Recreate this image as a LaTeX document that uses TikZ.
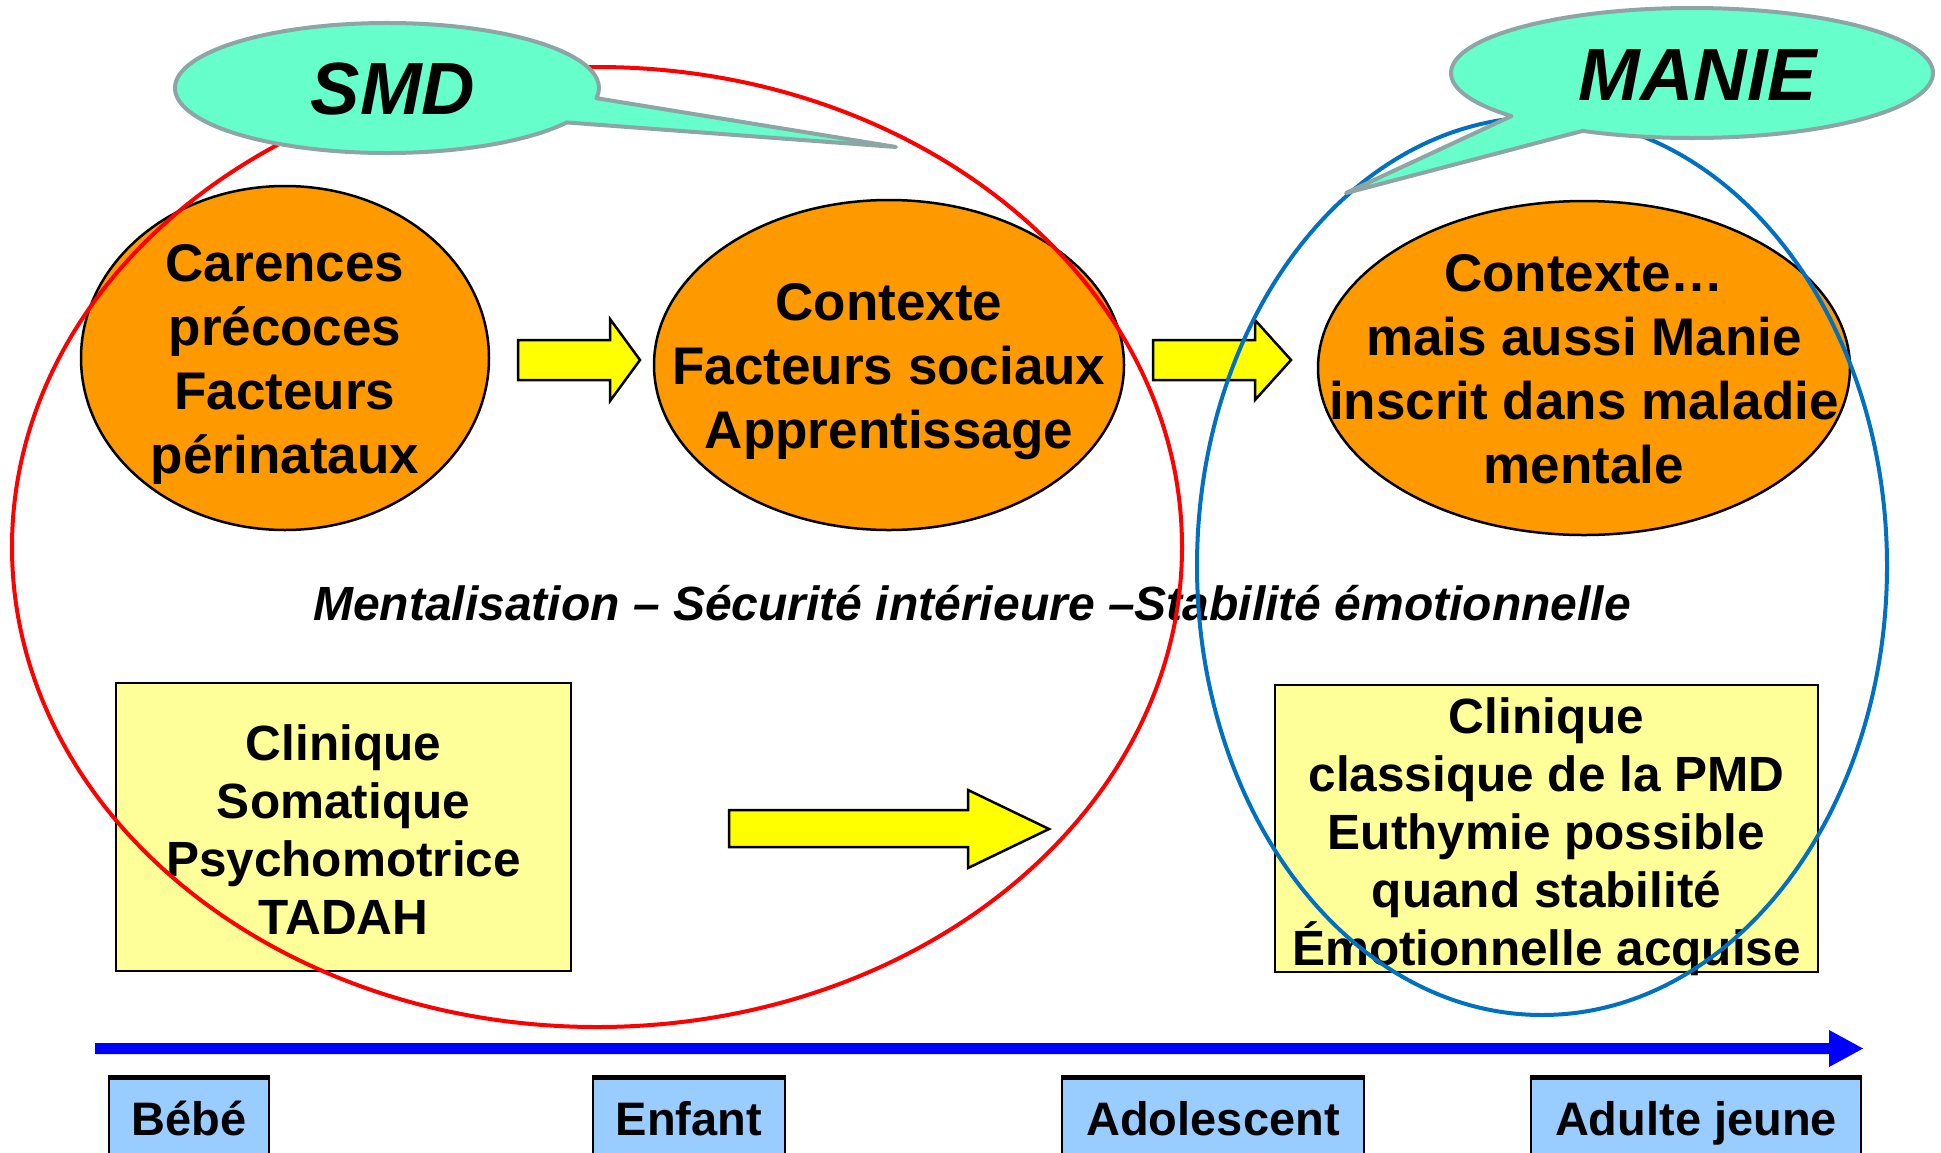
\documentclass[tikz,border=0pt]{standalone}
\usepackage{fontspec}
\setmainfont{Liberation Sans}
\definecolor{orangeF}{HTML}{FF9900}
\definecolor{yelA}{HTML}{FFFF00}
\definecolor{yelBox}{HTML}{FFFF99}
\definecolor{calloutF}{HTML}{66FFCC}
\definecolor{calloutD}{HTML}{8CA5A5}
\definecolor{ageF}{HTML}{99CCFF}
\definecolor{tlBlue}{HTML}{0000FF}
\definecolor{redE}{HTML}{FF0000}
\definecolor{blueE}{HTML}{0070C0}
\begin{document}
\begin{tikzpicture}[x=1pt,y=-1pt,
  phaseE/.style={draw=black, line width=2.5pt, fill=orangeF},
  phasetext/.style={inner sep=0pt, align=center, font=\fontsize{53}{64}\selectfont\bfseries},
  yarrow/.style={fill=yelA, draw=black, line width=2.5pt, line join=miter},
  clinbox/.style={draw=black, line width=2pt, fill=yelBox},
  clintext/.style={inner sep=0pt, align=center, font=\fontsize{49.5}{58}\selectfont\bfseries},
  callout/.style={fill=calloutF, draw=calloutD, line width=4pt, line join=round},
  calltext/.style={font=\fontsize{74}{80}\selectfont\bfseries\itshape},
  agebox/.style={rectangle, draw=black, line width=2pt, fill=ageF, inner sep=0pt,
    minimum height=80pt, text height=34pt, text depth=0pt,
    font=\fontsize{47}{56}\selectfont\bfseries},
  ringA/.style={draw=redE, line width=4pt},
  ringB/.style={draw=blueE, line width=4pt}]
\useasboundingbox (0,0) rectangle (1941,1152);
\fill[white] (0,0) rectangle (1941,1152);

% orange phase ellipses
\path[phaseE] (285,358) ellipse [x radius=204pt, y radius=172pt];
\node[phasetext] (e1) at (285,364) {Carences\\précoces\\Facteurs\\périnataux};
\path[phaseE] (889,365) ellipse [x radius=235pt, y radius=165pt];
\node[phasetext] (e2) at (889,372) {Contexte\\Facteurs sociaux\\Apprentissage};
\path[phaseE] (1584,368) ellipse [x radius=266pt, y radius=167pt];
\node[phasetext] (e3) at (1584,369) {Contexte…\\mais aussi Manie\\inscrit dans maladie\\mentale};

% yellow block arrows
\path[yarrow] (518,340) -- (610,340) -- (610,319) -- (640,360) -- (610,401) -- (610,380) -- (518,380) -- cycle;
\path[yarrow] (1153,340) -- (1255,340) -- (1255,320) -- (1291,360) -- (1255,400) -- (1255,380) -- (1153,380) -- cycle;
\path[yarrow] (729,810) -- (968,810) -- (968,790) -- (1049,829) -- (968,868) -- (968,847) -- (729,847) -- cycle;

% middle text
\node[font=\fontsize{48}{58}\selectfont\bfseries\itshape] (ment) at (972,603)
  {Mentalisation – Sécurité intérieure –Stabilité émotionnelle};

% clinical boxes
\path[clinbox] (116,683) rectangle (571,971);
\node[clintext] (c1) at (343.5,830) {Clinique\\Somatique\\Psychomotrice\\TADAH};
\path[clinbox] (1275,685) rectangle (1818,972);
\node[clintext] (c2) at (1546.5,837) {Clinique\\classique de la PMD\\Euthymie possible\\quand stabilité\\Émotionnelle acquise};

% grouping rings
\path[ringA] (597,547) ellipse [x radius=585pt, y radius=480pt];
\path[ringB] (1542,566) ellipse [x radius=345pt, y radius=449pt];

% callouts
\path[callout] (387,88) ++(-32:212pt and 65pt)
  arc[start angle=-32, end angle=-369, x radius=212pt, y radius=65pt] -- (896,147) -- cycle;
\node[calltext] (smd) at (393,89) {SMD};
\path[callout] (1692,73) ++(-138.5:241pt and 65pt)
  arc[start angle=-138.5, end angle=-477, x radius=241pt, y radius=65pt] -- (1346,193) -- cycle;
\node[calltext] (manie) at (1698,75) {MANIE};

% timeline
\coordinate (tl0) at (95,1048.5);
\coordinate (tl1) at (1863,1048.5);
\fill[tlBlue] (95,1043) -- (1829,1043) -- (1829,1030) -- (tl1) -- (1829,1067) -- (1829,1054) -- (95,1054) -- cycle;

% age boxes
\node[agebox, minimum width=160pt] (bebe) at (189,1118) {Bébé};
\node[agebox, minimum width=192pt] (enfant) at (689,1118) {Enfant};
\node[agebox, minimum width=302pt] (ado) at (1213,1118) {Adolescent};
\node[agebox, minimum width=330pt] (adulte) at (1696,1118) {Adulte jeune};
\foreach \b in {bebe,enfant,ado,adulte}
  \draw[line width=5pt] (\b.north west) -- (\b.north east);
\end{tikzpicture}
\end{document}
